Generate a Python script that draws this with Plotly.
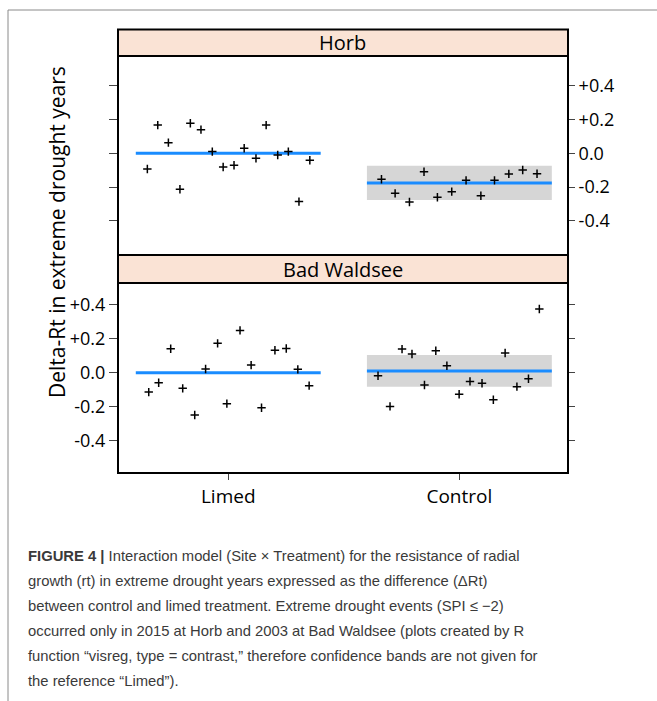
import plotly.graph_objects as go

# ---------------- data ----------------
treatments = ["Limed", "Control"]
treat_pos = [1, 2]
tick_vals = [0.4, 0.2, 0.0, -0.2, -0.4]
tick_text = ["+0.4", "+0.2", "0.0", "-0.2", "-0.4"]

# Horb (top panel)
horb_limed_x = [0.650, 0.695, 0.741, 0.791, 0.836, 0.882, 0.931, 0.978,
                1.025, 1.069, 1.120, 1.164, 1.214, 1.260, 1.306, 1.353]
horb_limed_y = [-0.093, 0.167, 0.063, -0.213, 0.178, 0.140, 0.010, -0.081,
                -0.071, 0.030, -0.030, 0.167, -0.010, 0.010, -0.286, -0.041]
horb_control_x = [1.663, 1.722, 1.784, 1.847, 1.905, 1.967, 2.029, 2.093,
                  2.152, 2.214, 2.274, 2.336]
horb_control_y = [-0.154, -0.237, -0.288, -0.109, -0.260, -0.227, -0.160,
                  -0.251, -0.160, -0.122, -0.099, -0.121]
horb_fit = [0.0, -0.176]
horb_lower = [None, -0.276]
horb_upper = [None, -0.073]

# Bad Waldsee (bottom panel)
bw_limed_x = [0.656, 0.699, 0.751, 0.803, 0.855, 0.902, 0.954, 0.994,
              1.051, 1.099, 1.144, 1.202, 1.251, 1.301, 1.350]
bw_limed_y = [-0.114, -0.059, 0.141, -0.092, -0.249, 0.022, 0.173, -0.182,
              0.249, 0.045, -0.206, 0.132, 0.143, 0.020, -0.076]
bw_control_x = [1.648, 1.700, 1.752, 1.795, 1.849, 1.898, 1.946, 1.999,
                2.046, 2.098, 2.147, 2.198, 2.249, 2.299, 2.346]
bw_control_y = [-0.018, -0.198, 0.139, 0.110, -0.072, 0.129, 0.041, -0.127,
                -0.051, -0.062, -0.159, 0.116, -0.082, -0.035, 0.375]
bw_fit = [0.0, 0.010]
bw_lower = [None, -0.082]
bw_upper = [None, 0.104]

sites = ["Horb", "Bad Waldsee"]
caption_lines = [
    "<b>FIGURE 4 |</b> Interaction model (Site × Treatment) for the resistance of radial",
    "growth (rt) in extreme drought years expressed as the difference (ΔRt)",
    "between control and limed treatment. Extreme drought events (SPI ≤ −2)",
    "occurred only in 2015 at Horb and 2003 at Bad Waldsee (plots created by R",
    "function “visreg, type = contrast,” therefore confidence bands are not given for",
    "the reference “Limed”).",
]
y_title = "Delta-Rt in extreme drought years"

# ---------------- layout helpers ----------------
W, H = 657, 701
def fx(p):
    return p / W
def fy(p):
    return 1 - p / H

FONT = "Open Sans, Noto Sans, sans-serif"
BLUE = "#1a8cff"
BAND = "#d6d6d6"
HALF = 0.4

fig = go.Figure()

panels = [
    ("x", "y", horb_limed_x, horb_limed_y, horb_control_x, horb_control_y,
     horb_fit, horb_lower, horb_upper),
    ("x2", "y2", bw_limed_x, bw_limed_y, bw_control_x, bw_control_y,
     bw_fit, bw_lower, bw_upper),
]

for xa, ya, lx, ly, cx, cy, fit, lo, up in panels:
    for pos, l, u in zip(treat_pos, lo, up):
        if l is None:
            continue
        fig.add_trace(go.Scatter(
            x=[pos - HALF, pos + HALF, pos + HALF, pos - HALF, pos - HALF],
            y=[l, l, u, u, l], fill="toself", fillcolor=BAND,
            line=dict(width=0), mode="lines", hoverinfo="skip",
            showlegend=False, xaxis=xa, yaxis=ya))
    for pos, f in zip(treat_pos, fit):
        fig.add_trace(go.Scatter(
            x=[pos - HALF, pos + HALF], y=[f, f], mode="lines",
            line=dict(color=BLUE, width=3), showlegend=False,
            xaxis=xa, yaxis=ya))
    fig.add_trace(go.Scatter(
        x=lx + cx, y=ly + cy, mode="markers",
        marker=dict(symbol="cross-thin", size=6,
                    line=dict(color="black", width=1.5)),
        showlegend=False, xaxis=xa, yaxis=ya))

# dummy traces for right-side overlay axes
fig.add_trace(go.Scatter(x=[None], y=[None], xaxis="x", yaxis="y3", showlegend=False))
fig.add_trace(go.Scatter(x=[None], y=[None], xaxis="x2", yaxis="y4", showlegend=False))

x_dom = [fx(118), fx(568)]
top_dom = [fy(255), fy(56)]
bot_dom = [fy(473), fy(283)]
x_range = [0.523, 2.470]
top_range = [-0.602, 0.576]
bot_range = [-0.590, 0.528]

tickfont = dict(family=FONT, size=18, color="black")
common_y = dict(tickvals=tick_vals, ticktext=tick_text, showgrid=False,
                zeroline=False, ticks="outside", tickcolor="#444",
                tickwidth=1, tickfont=tickfont, showline=False)

fig.update_layout(
    width=W, height=H, margin=dict(l=0, r=0, t=0, b=0),
    paper_bgcolor="white", plot_bgcolor="white", showlegend=False,
    xaxis=dict(domain=x_dom, range=x_range, anchor="y", showticklabels=False,
               ticks="", showgrid=False, zeroline=False, tickvals=treat_pos),
    xaxis2=dict(domain=x_dom, range=x_range, anchor="y2", tickvals=treat_pos,
                ticktext=treatments, ticks="outside", ticklen=6, tickcolor="#444",
                showgrid=False, zeroline=False,
                tickfont=dict(family=FONT, size=19, color="black")),
    yaxis=dict(domain=top_dom, range=top_range, anchor="x", side="left",
               ticklen=8, showticklabels=False, **common_y),
    yaxis3=dict(range=top_range, overlaying="y", anchor="x", side="right",
                ticklen=6, showticklabels=True, **common_y),
    yaxis2=dict(domain=bot_dom, range=bot_range, anchor="x2", side="left",
                ticklen=8, showticklabels=True, **common_y),
    yaxis4=dict(range=bot_range, overlaying="y2", anchor="x2", side="right",
                ticklen=6, showticklabels=False, **common_y),
)

shapes = []
shapes.append(dict(type="line", xref="paper", yref="paper", x0=fx(8), x1=1,
                   y0=fy(10), y1=fy(10), line=dict(color="#8a8a8a", width=1)))
shapes.append(dict(type="line", xref="paper", yref="paper", x0=fx(8), x1=fx(8),
                   y0=fy(10), y1=0, line=dict(color="#8a8a8a", width=1)))
strip_boxes = [(29.5, 56), (255, 283)]
panel_boxes = [(56, 255), (283, 473)]
for (s0, s1) in strip_boxes:
    shapes.append(dict(type="rect", xref="paper", yref="paper", x0=x_dom[0], x1=x_dom[1],
                       y0=fy(s1), y1=fy(s0), fillcolor="#fae3d5",
                       line=dict(color="black", width=2), layer="above"))
for (p0, p1) in panel_boxes:
    shapes.append(dict(type="rect", xref="paper", yref="paper", x0=x_dom[0], x1=x_dom[1],
                       y0=fy(p1), y1=fy(p0), line=dict(color="black", width=2),
                       layer="above"))
fig.update_layout(shapes=shapes)

annotations = []
for name, (s0, s1) in zip(sites, strip_boxes):
    annotations.append(dict(text=name, xref="paper", yref="paper",
                            x=(x_dom[0] + x_dom[1]) / 2, y=fy((s0 + s1) / 2),
                            xanchor="center", yanchor="middle", showarrow=False,
                            font=dict(family=FONT, size=20, color="black")))
annotations.append(dict(text=y_title, xref="paper", yref="paper", x=fx(57), y=fy(232),
                        xanchor="center", yanchor="middle", textangle=-90,
                        showarrow=False, font=dict(family=FONT, size=21, color="black")))
CAP_FONT = "Liberation Sans, Arial, sans-serif"
for i, line in enumerate(caption_lines):
    annotations.append(dict(text=line, xref="paper", yref="paper", x=fx(26),
                            y=fy(561.5 + 25 * i - 6), xanchor="left", yanchor="middle",
                            showarrow=False, align="left",
                            font=dict(family=CAP_FONT, size=14.8, color="#3a3a3a")))
fig.update_layout(annotations=annotations)

fig.write_html("out.html")
